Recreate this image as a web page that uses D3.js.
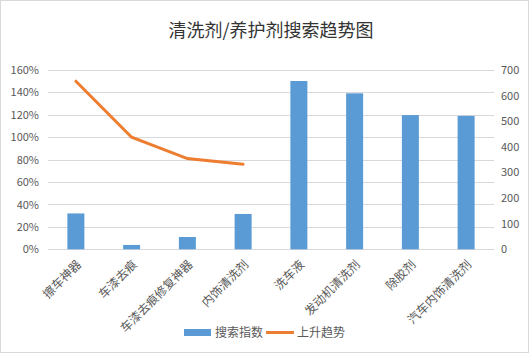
<!DOCTYPE html>
<html>
<head>
  <meta charset="utf-8">
  <script src="https://d3js.org/d3.v7.min.js"></script>
  <style>
    body { margin: 0; background: #fff; }
    text { font-family: "Noto Sans CJK SC", "Noto Sans", sans-serif; }
  </style>
</head>
<body>
<script>
  // chart data
  var categories = ["擦车神器", "车漆去痕", "车漆去痕修复神器", "内饰清洗剂", "洗车液", "发动机清洗剂", "除胶剂", "汽车内饰清洗剂"];
  var searchIndex = [140, 17, 48, 138, 657, 609, 524, 521];
  var trendCats = ["擦车神器", "车漆去痕", "车漆去痕修复神器", "内饰清洗剂"];
  var trendValues = [1.50, 1.00, 0.81, 0.76];
  var leftTicks = [0, 0.2, 0.4, 0.6, 0.8, 1.0, 1.2, 1.4, 1.6];
  var rightTicks = [0, 100, 200, 300, 400, 500, 600, 700];

  var W = 530, H = 354;
  var plotL = 48, plotR = 494, plotT = 70, plotB = 249.3;

  var svg = d3.select("body").append("svg")
    .attr("width", W).attr("height", H);

  svg.append("rect")
    .attr("x", 0.5).attr("y", 0.5)
    .attr("width", W - 2).attr("height", H - 2)
    .attr("fill", "#fff").attr("stroke", "#d9d9d9");

  svg.append("text")
    .attr("x", 271).attr("y", 37)
    .attr("text-anchor", "middle")
    .style("font-size", "18px")
    .attr("fill", "#333")
    .text("清洗剂/养护剂搜索趋势图");

  var x = d3.scaleBand().domain(categories).range([plotL, plotR]);
  var yL = d3.scaleLinear().domain([0, 1.6]).range([plotB, plotT]);
  var yR = d3.scaleLinear().domain([0, 700]).range([plotB, plotT]);

  // gridlines
  svg.append("g").selectAll("line").data(leftTicks).enter().append("line")
    .attr("x1", plotL).attr("x2", plotR)
    .attr("y1", function(d) { return Math.round(yL(d)) + 0.5; })
    .attr("y2", function(d) { return Math.round(yL(d)) + 0.5; })
    .attr("stroke", "#d9d9d9").attr("stroke-width", 1);

  // left axis
  var gL = svg.append("g").attr("transform", "translate(" + plotL + ",0)")
    .call(d3.axisLeft(yL).tickValues(leftTicks).tickFormat(d3.format(".0%")).tickSize(0).tickPadding(9));
  gL.select(".domain").remove();
  gL.selectAll("text").attr("fill", "#595959").style("font-size", "11px");

  // right axis
  var gR = svg.append("g").attr("transform", "translate(" + plotR + ",0)")
    .call(d3.axisRight(yR).tickValues(rightTicks).tickSize(0).tickPadding(7));
  gR.select(".domain").remove();
  gR.selectAll("text").attr("fill", "#595959").style("font-size", "11px");

  // bars
  var bw = 17;
  svg.append("g").selectAll("rect").data(searchIndex).enter().append("rect")
    .attr("x", function(d, i) { return x(categories[i]) + x.bandwidth() / 2 - bw / 2; })
    .attr("y", function(d) { return yR(d); })
    .attr("width", bw)
    .attr("height", function(d) { return plotB - yR(d); })
    .attr("fill", "#5b9bd5");

  // trend line
  var line = d3.line()
    .x(function(d, i) { return x(trendCats[i]) + x.bandwidth() / 2; })
    .y(function(d) { return yL(d); });
  svg.append("path").datum(trendValues)
    .attr("d", line)
    .attr("fill", "none")
    .attr("stroke", "#ed7d31")
    .attr("stroke-width", 3)
    .attr("stroke-linecap", "round");

  // x labels
  svg.append("g").selectAll("text").data(categories).enter().append("text")
    .attr("transform", function(d) {
      return "translate(" + (x(d) + x.bandwidth() / 2 + 6) + "," + (plotB + 16) + ") rotate(-45)";
    })
    .attr("text-anchor", "end")
    .attr("fill", "#595959")
    .style("font-size", "12px")
    .text(function(d) { return d; });

  // legend
  var lg = svg.append("g");
  lg.append("rect").attr("x", 184).attr("y", 329).attr("width", 27).attr("height", 7).attr("fill", "#5b9bd5");
  lg.append("text").attr("x", 215).attr("y", 337).attr("fill", "#595959").style("font-size", "12px").text("搜索指数");
  lg.append("line").attr("x1", 266).attr("x2", 294).attr("y1", 332.5).attr("y2", 332.5)
    .attr("stroke", "#ed7d31").attr("stroke-width", 3);
  lg.append("text").attr("x", 297).attr("y", 337).attr("fill", "#595959").style("font-size", "12px").text("上升趋势");
</script>
</body>
</html>
